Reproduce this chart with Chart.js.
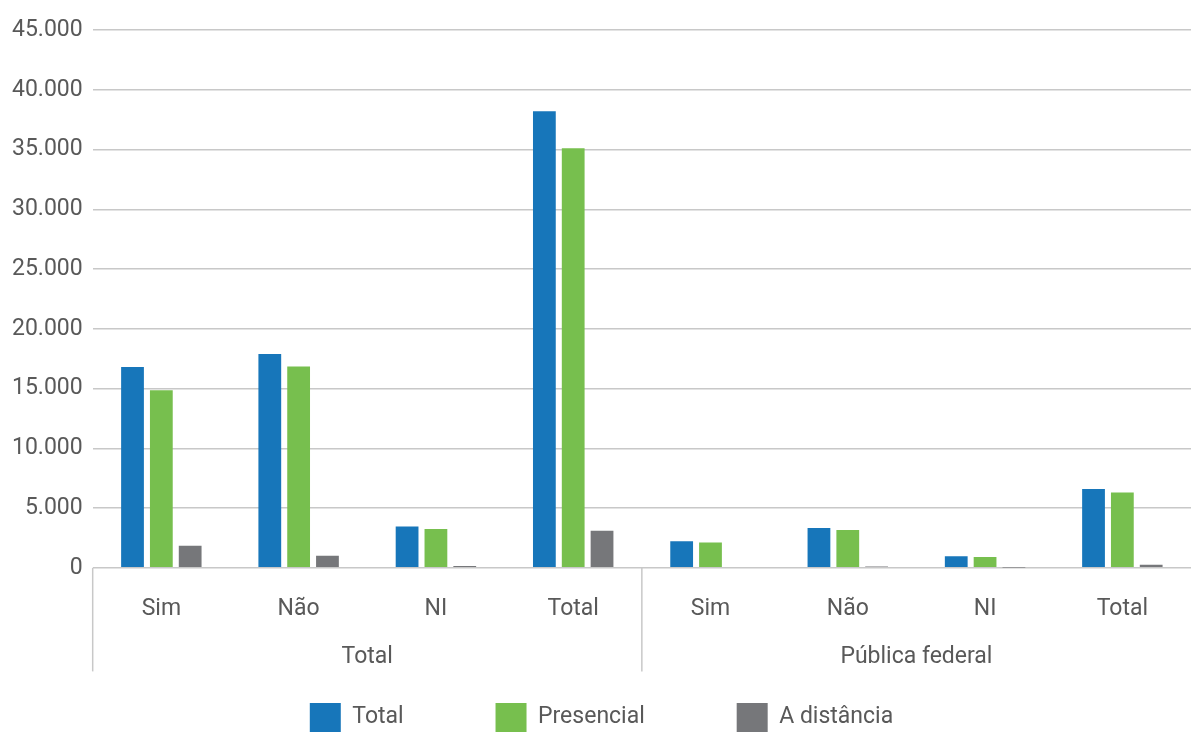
<!DOCTYPE html>
<html>
<head>
<meta charset="utf-8">
<script src="https://cdn.jsdelivr.net/npm/chart.js@4/dist/chart.umd.min.js"></script>
<style>
  html, body { margin: 0; padding: 0; background: #fff; }
  #wrap { width: 1191px; height: 732px; }
</style>
</head>
<body>
<div id="wrap"><canvas id="chart"></canvas></div>
<script>
// Sub-category and group labels of the two-level x axis
const subLabels = ['Sim', 'Não', 'NI', 'Total', 'Sim', 'Não', 'NI', 'Total'];
const groupLabels = ['Total', 'Pública federal'];

// Series values
const totalValues = [16800, 17900, 3450, 38200, 2220, 3320, 960, 6600];
const presencialValues = [14850, 16850, 3250, 35100, 2120, 3160, 900, 6300];
const distanciaValues = [1850, 1000, 150, 3100, 60, 110, 10, 250];

const seriesNames = ['Total', 'Presencial', 'A distância'];
const seriesColors = ['#1776BA', '#77BF4E', '#76777A'];

const TEXT = '#595959';
const GRID = '#c8c8c8';
const FONT = { family: 'Roboto', size: 23 };

// thousands with a dot, as in pt-BR
const fmt = (v) => String(v).replace(/\B(?=(\d{3})+(?!\d))/g, '.');

// trailing spaces widen the first legend items to the reference spacing
const legendTail = [14, 14, 0];

// long tick lines at the left edge of each group, down through the group row
const groupLines = {
  id: 'group-lines',
  afterDraw(chart) {
    const x = chart.scales.x;
    const x2 = chart.scales.x2;
    const ctx = chart.ctx;
    const top = chart.chartArea.bottom;
    const bottom = x2.top + 48;
    const mid = (x.getPixelForValue(3) + x.getPixelForValue(4)) / 2;
    ctx.save();
    ctx.strokeStyle = GRID;
    ctx.lineWidth = 1.5;
    [x.left, mid].forEach((px) => {
      ctx.beginPath();
      ctx.moveTo(px, top);
      ctx.lineTo(px, bottom);
      ctx.stroke();
    });
    ctx.restore();
  }
};

const datasets = [totalValues, presencialValues, distanciaValues].map((values, i) => ({
  label: seriesNames[i],
  data: values,
  backgroundColor: seriesColors[i],
  borderWidth: 0,
  categoryPercentage: 0.63,
  barPercentage: 0.79
}));

new Chart(document.getElementById('chart'), {
  type: 'bar',
  data: { labels: subLabels, datasets },
  options: {
    responsive: true,
    maintainAspectRatio: false,
    animation: false,
    layout: { padding: { top: 30, left: 12, right: 0, bottom: -10 } },
    plugins: {
      tooltip: { enabled: false },
      legend: {
        position: 'bottom',
        labels: {
          font: FONT,
          color: TEXT,
          boxWidth: 31,
          boxHeight: 29,
          padding: 12,
          generateLabels(chart) {
            const items = Chart.defaults.plugins.legend.labels.generateLabels(chart);
            items.forEach((item, i) => {
              item.text = item.text + ' '.repeat(legendTail[i]);
              item.lineWidth = 0;
            });
            return items;
          }
        }
      }
    },
    scales: {
      x: {
        position: 'bottom',
        weight: 0,
        grid: { display: false, drawTicks: true, tickLength: 28 },
        border: { display: false },
        ticks: { font: FONT, color: TEXT, padding: 0, maxRotation: 0, autoSkip: false }
      },
      x2: {
        type: 'category',
        labels: groupLabels,
        position: 'bottom',
        weight: 1,
        offset: true,
        grid: { display: false, drawTicks: false },
        border: { display: false },
        ticks: { font: FONT, color: TEXT, padding: 20, maxRotation: 0 }
      },
      y: {
        min: 0,
        max: 45000,
        grid: { color: GRID, lineWidth: 1.5, drawTicks: true, tickLength: 10, tickColor: 'transparent' },
        border: { display: false },
        ticks: { stepSize: 5000, font: FONT, color: TEXT, padding: 0, callback: (v) => fmt(v) }
      }
    }
  },
  plugins: [groupLines]
});
</script>
</body>
</html>
